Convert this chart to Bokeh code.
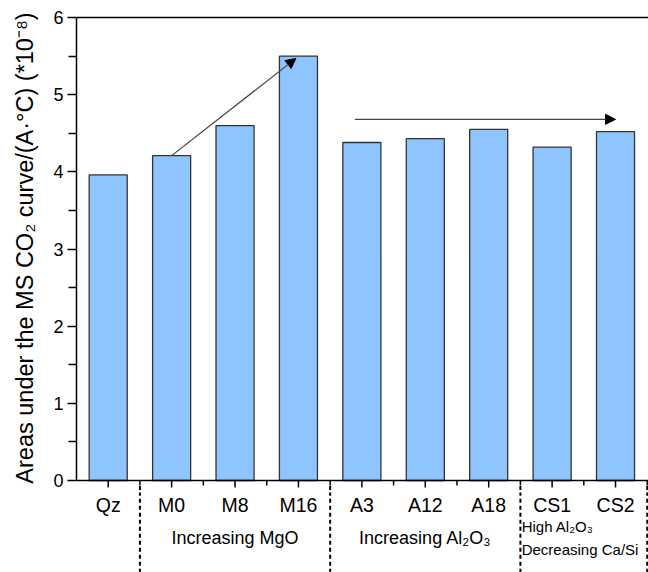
from bokeh.plotting import figure
from bokeh.layouts import column
from bokeh.models import Range1d, FixedTicker, LinearAxis, Arrow, NormalHead
from bokeh.core.properties import value
from bokeh.embed import file_html
from bokeh.resources import INLINE

# ---- data ----
categories = ["Qz", "M0", "M8", "M16", "A3", "A12", "A18", "CS1", "CS2"]
areas = [3.96, 4.21, 4.60, 5.50, 4.38, 4.43, 4.55, 4.32, 4.52]
y_ticks = [0, 1, 2, 3, 4, 5, 6]
group_separators = [1.5, 4.5, 7.5, 9.5]
flat_arrow_level = 4.68
y_title = "Areas under the MS CO\u2082 curve/(A\u00b7\u00b0C) (*10\u207b\u2078)"

FONT = "Liberation Sans"
xs = list(range(1, len(categories) + 1))
minor_xs = [x + 0.5 for x in xs]
XMIN, XMAX = 0.5, 9.52
FRAME_LEFT = 76
PX_PER_Y = 77.17
TOP_BORDER = 3
Y_TOP = y_ticks[-1] + (17 - TOP_BORDER) / PX_PER_Y
TOP_H = 492
Y_SPLIT = Y_TOP - (TOP_H - TOP_BORDER) / PX_PER_Y
BOT_H = 572 - TOP_H
Y_BOTTOM = Y_SPLIT - BOT_H / PX_PER_Y
MAJOR_TICK = 7 / PX_PER_Y
MINOR_TICK = 5 / PX_PER_Y

x_range = Range1d(XMIN, XMAX)

# ---------------- top panel: bars ----------------
p = figure(width=648, height=TOP_H, output_backend="svg", toolbar_location=None,
           x_range=x_range, y_range=Range1d(Y_SPLIT, Y_TOP),
           min_border_left=FRAME_LEFT, min_border_right=0, min_border_top=TOP_BORDER,
           min_border_bottom=0, x_axis_location=None, y_axis_location=None)
p.outline_line_color = None
p.grid.visible = False

p.vbar(x=xs, top=areas, bottom=0, width=0.6, fill_color="#8EC5FF",
       line_color="#333333", line_width=1.3)

# frame top line, x-axis line and its ticks
p.line(x=[XMIN, XMAX], y=[y_ticks[-1]] * 2, line_color="black", line_width=1.5)
p.line(x=[XMIN - 0.02, XMAX], y=[y_ticks[0]] * 2, line_color="black", line_width=1.5)
p.segment(x0=xs, y0=[0] * len(xs), x1=xs, y1=[-MAJOR_TICK] * len(xs),
          line_color="black", line_width=1.5)
p.segment(x0=minor_xs, y0=[0] * len(minor_xs), x1=minor_xs, y1=[-MINOR_TICK] * len(minor_xs),
          line_color="black", line_width=1.5)

yax = LinearAxis(bounds=(0, 6),
                 ticker=FixedTicker(ticks=y_ticks, minor_ticks=[t + 0.5 for t in y_ticks[:-1]]))
yax.axis_label = y_title
yax.axis_label_text_font = FONT
yax.axis_label_text_font_size = "23.5px"
yax.axis_label_text_font_style = "normal"
yax.axis_label_text_color = "black"
yax.axis_label_standoff = 12
yax.major_label_text_font = FONT
yax.major_label_text_font_size = "18px"
yax.major_label_text_color = "black"
yax.major_label_standoff = 4
yax.axis_line_width = 1.5
yax.major_tick_line_width = 1.5
yax.minor_tick_line_width = 1.5
yax.major_tick_out = 9
yax.major_tick_in = 0
yax.minor_tick_out = 8
yax.minor_tick_in = 0
p.add_layout(yax, "left")

p.segment(x0=group_separators, y0=[-0.07] * 4, x1=group_separators, y1=[Y_SPLIT - 0.1] * 4,
          line_color="black", line_width=2, line_dash="4 3")

i0, i1 = categories.index("M0"), categories.index("M16")
p.add_layout(Arrow(end=NormalHead(size=10, fill_color="black", line_color="black"),
                   x_start=xs[i0], y_start=areas[i0], x_end=xs[i1] - 0.04, y_end=areas[i1] - 0.03,
                   line_color="#444444", line_width=1.2))
p.add_layout(Arrow(end=NormalHead(size=10, fill_color="black", line_color="black"),
                   x_start=4.89, y_start=flat_arrow_level, x_end=9.0, y_end=flat_arrow_level,
                   line_color="#444444", line_width=1.2))

# ---------------- bottom panel: category labels and groups ----------------
b = figure(width=648, height=BOT_H, output_backend="svg", toolbar_location=None,
           x_range=x_range, y_range=Range1d(Y_BOTTOM, Y_SPLIT),
           min_border_left=FRAME_LEFT, min_border_right=0, min_border_top=0,
           min_border_bottom=0, x_axis_location=None, y_axis_location=None)
b.outline_line_color = None
b.grid.visible = False

lab = LinearAxis(fixed_location=Y_SPLIT, ticker=FixedTicker(ticks=xs))
lab.major_label_overrides = {x: c for x, c in zip(xs, categories)}
lab.major_label_text_font = FONT
lab.major_label_text_font_size = "19.5px"
lab.major_label_text_color = "black"
lab.major_label_standoff = 1
lab.axis_line_color = None
lab.major_tick_line_color = None
lab.minor_tick_line_color = None
lab.major_tick_out = 0
lab.major_tick_in = 0
b.add_layout(lab, "below")

b.segment(x0=group_separators, y0=[Y_SPLIT + 0.1] * 4, x1=group_separators, y1=[Y_BOTTOM - 0.1] * 4,
          line_color="black", line_width=2, line_dash="4 3")

b.text(x=[xs[2], xs[5]], y=[-0.74, -0.74], text=["Increasing MgO", "Increasing Al\u2082O\u2083"],
       text_font=value(FONT), text_font_size="18px", text_align="center",
       text_baseline="middle", text_color="black")
b.text(x=[7.52, 7.52], y=[-0.6, -0.89], text=["High Al\u2082O\u2083", "Decreasing Ca/Si"],
       text_font=value(FONT), text_font_size="15px", text_align="left",
       text_baseline="middle", text_color="black")

layout = column(p, b, spacing=0)
open("out.html", "w").write(file_html(layout, INLINE))
